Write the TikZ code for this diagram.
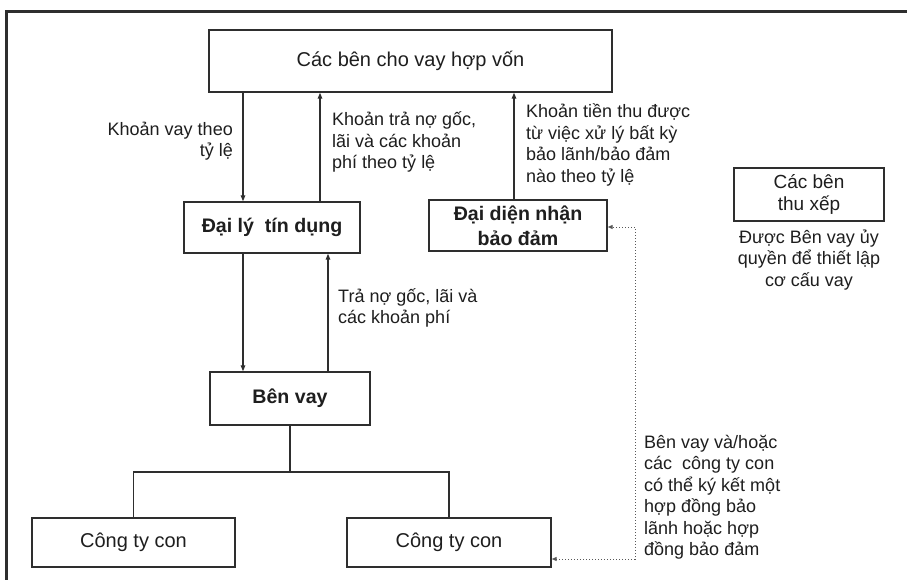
\documentclass[tikz,border=0pt]{standalone}
\usepackage{fontspec}
\setmainfont{Liberation Sans}
\usetikzlibrary{arrows.meta}
\definecolor{ln}{HTML}{2E2E2E}
\definecolor{tx}{HTML}{1E1E1E}
\begin{document}
\begin{tikzpicture}[x=1pt,y=-1pt,
  box/.style={draw=ln,line width=1.4pt,fill=white,inner sep=0pt,text=tx,align=center,
    font=\fontsize{19}{22}\selectfont},
  bigbox/.style={box,font=\fontsize{20}{22}\selectfont},
  bbox/.style={box,font=\fontsize{19.6}{25}\selectfont\bfseries},
  lbl/.style={inner sep=0pt,text=tx,font=\fontsize{18}{21.5}\selectfont},
  arr/.style={draw=ln,line width=1.3pt,-{Triangle[length=6pt,width=4.5pt]}},
  conn/.style={draw=ln,line width=1.3pt},
  dotarr/.style={draw=ln!80,line width=1pt,dotted,{Triangle[length=5pt,width=4pt]}-{Triangle[length=5pt,width=4pt]}}
]
\useasboundingbox (0,0) rectangle (907,580);
\fill[white] (0,0) rectangle (907,580);
% frame
\draw[ln,line width=3pt] (907,11.5) -- (6.5,11.5) -- (6.5,585);

% boxes
\node[bigbox,minimum width=403pt,minimum height=62pt] (top) at (410.5,61) {Các bên cho vay hợp vốn};
\node[bbox,minimum width=176pt,minimum height=51pt] (dl) at (272,227.5) {Đại lý\ \ tín dụng};
\node[bbox,minimum width=178pt,minimum height=51pt] (dd) at (518,225.5) {Đại diện nhận\\bảo đảm};
\node[bbox,minimum width=160pt,minimum height=53pt] (bv) at (290,398.5) {Bên vay};
\node[bigbox,minimum width=203pt,minimum height=49pt] (c1) at (133.5,542.5) {Công ty con};
\node[bigbox,minimum width=204pt,minimum height=49pt] (c2) at (449,542.5) {Công ty con};
\node[box,minimum width=150pt,minimum height=53pt] (tx) at (809,194.5) {Các bên\\thu xếp};

% labels
\node[lbl,align=right,anchor=east] (l1) at (233,141) {Khoản vay theo\\tỷ lệ};
\node[lbl,align=left,anchor=west] (l2) at (332,142) {Khoản trả nợ gốc,\\lãi và các khoản\\phí theo tỷ lệ};
\node[lbl,align=left,anchor=west] (l3) at (526,145) {Khoản tiền thu được\\từ việc xử lý bất kỳ\\bảo lãnh/bảo đảm\\nào theo tỷ lệ};
\node[lbl,align=left,anchor=west] (l4) at (338,308) {Trả\ nợ gốc, lãi và\\các khoản phí};
\node[lbl,align=left,anchor=west] (l5) at (644,497) {Bên vay và/hoặc\\các\ \ công ty con\\có thể ký kết một\\hợp đồng bảo\\lãnh hoặc hợp\\đồng bảo đảm};
\node[lbl,align=center] (l6) at (809,260) {Được Bên vay ủy\\quyền để thiết lập\\cơ cấu vay};

% helper coordinates
\coordinate (xa) at (243,0);
\coordinate (xb) at (320,0);
\coordinate (xc) at (514,0);
\coordinate (xd) at (328,0);
\coordinate (ybr) at (0,472);
\coordinate (xdot) at (635,0);
\coordinate (ydt) at (0,227);
\coordinate (ydb) at (0,559);

% arrows
\draw[arr] (top.south -| xa) -- (dl.north -| xa);
\draw[arr] (dl.north -| xb) -- (top.south -| xb);
\draw[arr] (dd.north -| xc) -- (top.south -| xc);
\draw[arr] (dl.south -| xa) -- (bv.north -| xa);
\draw[arr] (bv.north -| xd) -- (dl.south -| xd);

% tree
\draw[conn] (bv.south) -- (bv.south |- ybr);
\draw[conn] (c1.north) -- (c1.north |- ybr) -- (c2.north |- ybr) -- (c2.north);

% dotted
\draw[dotarr] (c2.east |- ydb) -- (xdot |- ydb) -- (xdot |- ydt) -- (dd.east |- ydt);
\end{tikzpicture}
\end{document}
